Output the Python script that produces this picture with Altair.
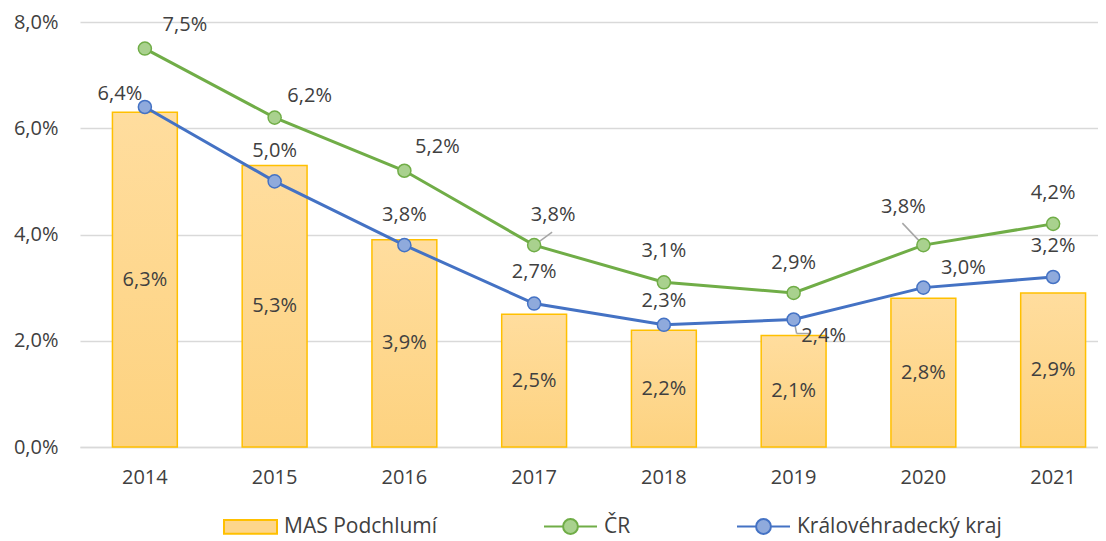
import altair as alt
import pandas as pd

years = ["2014", "2015", "2016", "2017", "2018", "2019", "2020", "2021"]
mas = [0.063, 0.053, 0.039, 0.025, 0.022, 0.021, 0.028, 0.029]
cr = [0.075, 0.062, 0.052, 0.038, 0.031, 0.029, 0.038, 0.042]
kraj = [0.064, 0.050, 0.038, 0.027, 0.023, 0.024, 0.030, 0.032]
series = ["MAS Podchlumí", "ČR", "Královéhradecký kraj"]

# label offsets (pixels) per series and year
cr_off = [(40, -24), (35, -22), (33, -24), (19, -30), (0, -31), (0, -30), (-20, -38), (0, -31)]
kraj_off = [(-25, -13), (0, -30), (0, -30), (0, -32), (0, -24), (30, 16), (40, -20), (0, -31)]

FONT = "Open Sans"
TXT = "#404040"
FS = 20

bars = pd.DataFrame({"year": years, "value": mas})
bars["half"] = bars["value"] / 2
lines = pd.DataFrame({
    "year": years * 2,
    "value": cr + kraj,
    "series": ["ČR"] * 8 + ["Královéhradecký kraj"] * 8,
})
for df in (bars, lines):
    df["label"] = df["value"].map(lambda v: f"{v*100:.1f}%".replace(".", ","))

xscale = alt.Scale(domain=years, range=[0, 1038], paddingInner=0.5, paddingOuter=0.25)
yscale = alt.Scale(domain=[0, 0.08])
X = alt.X("year:N", scale=xscale, sort=years)
Y = alt.Y("value:Q", scale=yscale)

x = alt.X("year:N", scale=xscale, sort=years,
          axis=alt.Axis(title=None, labelAngle=0, ticks=False, domainColor="#D9D9D9",
                        domainWidth=1.5, labelPadding=20, labelFontSize=FS,
                        labelFont=FONT, labelColor=TXT, grid=False))
y = alt.Y("value:Q", scale=yscale,
          axis=alt.Axis(title=None, values=[0, 0.02, 0.04, 0.06, 0.08], ticks=False,
                        domain=False, gridColor="#D9D9D9", gridWidth=1.5,
                        labelExpr="replace(format(datum.value, '.1%'), '.', ',')",
                        labelPadding=22, labelFontSize=FS, labelFont=FONT, labelColor=TXT))

grad = alt.Gradient(gradient="linear", x1=0, y1=0, x2=0, y2=1,
                    stops=[alt.GradientStop(color="#FFDD9E", offset=0),
                           alt.GradientStop(color="#FDD27F", offset=1)])

bar_layer = alt.Chart(bars).mark_bar(fill=grad, stroke="#FFC000", strokeWidth=1.5).encode(x=x, y=y)
bar_text = alt.Chart(bars).mark_text(font=FONT, fontSize=FS, color=TXT).encode(
    x=X, y=alt.Y("half:Q", scale=yscale), text="label:N")

layers = [bar_layer, bar_text]

# leader lines (gray) for a few labels
cr_df = lines[lines.series == "ČR"]
kr_df = lines[lines.series == "Královéhradecký kraj"]
lead = dict(color="#A6A6A6", strokeWidth=1.5)
layers.append(alt.Chart(cr_df[cr_df.year == "2017"]).mark_rule(
    xOffset=3, yOffset=-2, x2Offset=18, y2Offset=-13, **lead).encode(x=X, x2="year:N", y=Y, y2="value:Q"))
layers.append(alt.Chart(cr_df[cr_df.year == "2020"]).mark_rule(
    xOffset=-21, yOffset=-22, x2Offset=-3, y2Offset=-3, **lead).encode(x=X, x2="year:N", y=Y, y2="value:Q"))
layers.append(alt.Chart(kr_df[kr_df.year == "2019"]).mark_rule(
    xOffset=1, yOffset=4, x2Offset=3, y2Offset=14, **lead).encode(x=X, x2="year:N", y=Y, y2="value:Q"))
layers.append(alt.Chart(kr_df[kr_df.year == "2019"]).mark_rule(
    xOffset=3, yOffset=14, x2Offset=16, y2Offset=14, **lead).encode(x=X, x2="year:N", y=Y, y2="value:Q"))

line_colors = {"ČR": ("#70AD47", "#A9D18E"), "Královéhradecký kraj": ("#4472C4", "#8FAADC")}
for s, (stroke, fill) in line_colors.items():
    d = lines[lines.series == s]
    layers.append(alt.Chart(d).mark_line(color=stroke, strokeWidth=3).encode(x=X, y=Y))
    layers.append(alt.Chart(d).mark_point(filled=True, fill=fill, stroke=stroke, strokeWidth=1.5,
                                          opacity=1, size=170, shape="circle").encode(x=X, y=Y))

label_rows = []
for i, yr in enumerate(years):
    label_rows.append(("ČR", yr, cr_off[i]))
    label_rows.append(("Královéhradecký kraj", yr, kraj_off[i]))
offsets = sorted(set(r[2] for r in label_rows))
for off in offsets:
    keys = {(r[0], r[1]) for r in label_rows if r[2] == off}
    d = lines[[(s, yr) in keys for s, yr in zip(lines.series, lines.year)]]
    layers.append(alt.Chart(d).mark_text(font=FONT, fontSize=FS, color=TXT, dx=off[0], dy=off[1]).encode(
        x=X, y=Y, text="label:N"))

# legend carrier (draws nothing)
r = 0.28
line_path = f"M-1,0H-{r} A{r},{r} 0 1,1 {r},0 A{r},{r} 0 1,1 -{r},0 M{r},0H1"
rect_path = "M-1,-0.26H1V0.26H-1Z"
leg = alt.Legend(title=None, orient="none", legendX=143, legendY=477, direction="horizontal",
                 symbolSize=2809, symbolStrokeWidth=2, labelFont=FONT, labelFontSize=21,
                 labelColor=TXT, labelOffset=6, columnPadding=102, symbolOpacity=1, labelLimit=400)
legend_df = pd.DataFrame({"series": series, "value": [0, 0, 0], "year": ["2014"] * 3})
legend_layer = alt.Chart(legend_df).mark_point(filled=True).encode(
    x=X, y=Y,
    fill=alt.Fill("series:N", scale=alt.Scale(domain=series, range=["#FDD68C", "#A9D18E", "#8FAADC"]), legend=leg),
    stroke=alt.Stroke("series:N", scale=alt.Scale(domain=series, range=["#FFC000", "#70AD47", "#4472C4"]), legend=leg),
    shape=alt.Shape("series:N", scale=alt.Scale(domain=series, range=[rect_path, line_path, line_path]), legend=leg),
).transform_filter("false")
layers.append(legend_layer)

chart = alt.layer(*layers).properties(
    width=1018, height=425,
    autosize=alt.AutoSizeParams(type="none"),
    padding={"left": 72, "top": 14, "right": 0, "bottom": 95},
).configure_view(stroke=None)

chart.save("out.html", embed_options={"renderer": "svg", "actions": False})
